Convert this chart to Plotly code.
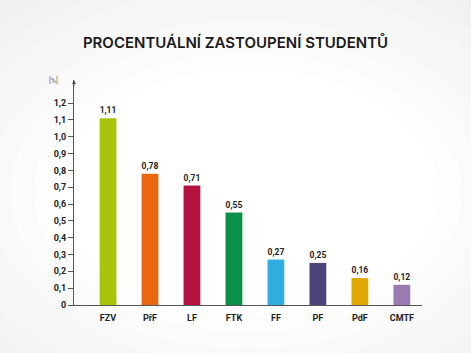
import plotly.graph_objects as go

categories = ["FZV", "PřF", "LF", "FTK", "FF", "PF", "PdF", "CMTF"]
values = [1.11, 0.78, 0.71, 0.55, 0.27, 0.25, 0.16, 0.12]
colors = ["#a9c20c", "#e9680f", "#b3123f", "#0b904a", "#2fade0", "#4e4479", "#e3a703", "#9a7cb2"]
y_ticks = [0, 0.1, 0.2, 0.3, 0.4, 0.5, 0.6, 0.7, 0.8, 0.9, 1.0, 1.1, 1.2]
y_tick_labels = ["0", "0,1", "0,2", "0,3", "0,4", "0,5", "0,6", "0,7", "0,8", "0,9", "1,0", "1,1", "1,2"]

W, H = 471, 353
fig = go.Figure()

# background radial-ish gradient
steps = 14
for i in range(steps):
    f = i / (steps - 1)
    g = int(232 + (255 - 232) * f)
    fig.add_shape(type="circle", xref="paper", yref="paper",
                  x0=-0.9 + 0.85 * f, x1=1.9 - 0.85 * f,
                  y0=-1.0 + 0.95 * f, y1=2.0 - 0.95 * f,
                  line=dict(width=0), fillcolor=f"rgb({g},{g},{g})", layer="below")

fig.add_trace(go.Bar(
    x=categories, y=values, marker=dict(color=colors, line=dict(width=0)),
    width=0.4,
    text=[f"{v:.2f}".replace(".", ",") for v in values],
    textposition="outside", cliponaxis=False,
    textfont=dict(family="Roboto", size=9, color="#222", weight="bold"),
))

fig.update_layout(
    width=W, height=H,
    margin=dict(l=74, r=49, t=80, b=48),
    paper_bgcolor="#ececec", plot_bgcolor="rgba(0,0,0,0)",
    showlegend=False, bargap=0.6,
    title=dict(text="PROCENTUÁLNÍ ZASTOUPENÍ STUDENTŮ", x=0.5, xanchor="center",
               y=1 - 43 / H, yanchor="middle",
               font=dict(family="Inter", size=15, color="#1a1a1a", weight=600)),
    xaxis=dict(range=[-0.81, 7.48], showgrid=False, zeroline=False, showline=True,
               linecolor="#555", linewidth=1, ticks="", fixedrange=True,
               ticklabelstandoff=4,
               tickfont=dict(family="Roboto", size=9, color="#222", weight="bold")),
    yaxis=dict(range=[0, 1.337], tickvals=y_ticks, ticktext=y_tick_labels,
               showgrid=False, zeroline=False, showline=True, linecolor="#555", linewidth=1,
               ticks="outside", ticklen=5, tickcolor="#555", tickwidth=1,
               tickfont=dict(family="Roboto", size=9, color="#222", weight="bold")),
)

fig.add_annotation(x=0, xref="paper", y=1.0, yref="paper", ax=0, ay=8, axref="pixel", ayref="pixel",
                   showarrow=True, arrowhead=2, arrowsize=0.8, arrowwidth=1, arrowcolor="#555", text="")
fig.add_annotation(x=(53 - 74) / (W - 74 - 49), xref="paper", y=1.0, yref="paper", text="[%]",
                   showarrow=False, xanchor="center", yanchor="middle",
                   font=dict(family="Roboto", size=7, color="#666"))

fig.write_html("out.html")
